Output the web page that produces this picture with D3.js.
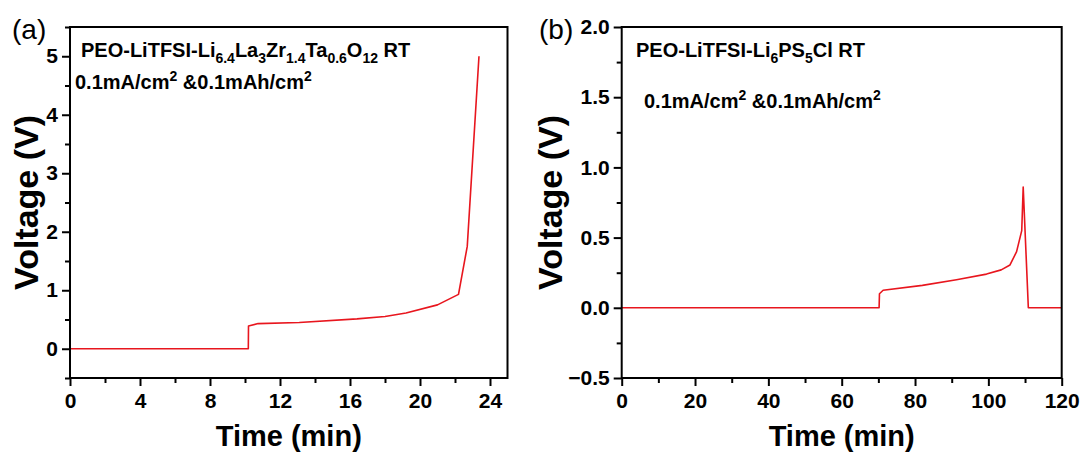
<!DOCTYPE html>
<html>
<head>
<meta charset="utf-8">
<script src="https://cdn.jsdelivr.net/npm/d3@7"></script>
<style>
  html, body { margin: 0; padding: 0; background: #fff; }
  svg { display: block; }
  text { font-family: "Liberation Sans", Arial, Helvetica, sans-serif; }
</style>
</head>
<body>
<svg id="chart" width="1085" height="452"></svg>
<script>
// ---- Data ----
const timeA = [0, 10.19, 10.2, 10.75, 13.1, 16.4, 18.0, 19.2, 21.0, 22.2, 22.7, 23.37];
const voltA = [0, 0, 0.39, 0.43, 0.45, 0.51, 0.55, 0.61, 0.75, 0.93, 1.75, 5.0];

const timeB = [0, 70.2, 70.3, 71.3, 82, 91.3, 99.5, 103.5, 105.9, 107.7, 109.1, 109.5, 110.9, 120];
const voltB = [0, 0, 0.10, 0.125, 0.16, 0.20, 0.24, 0.27, 0.305, 0.40, 0.55, 0.86, 0, 0];

const xTicksA = [0, 4, 8, 12, 16, 20, 24];
const yTicksA = [0, 1, 2, 3, 4, 5];
const xTicksB = [0, 20, 40, 60, 80, 100, 120];
const yTicksB = [-0.5, 0.0, 0.5, 1.0, 1.5, 2.0];

const xMinorA = [2, 6, 10, 14, 18, 22];
const yMinorA = [-0.5, 0.5, 1.5, 2.5, 3.5, 4.5, 5.5];
const xMinorB = [10, 30, 50, 70, 90, 110];
const yMinorB = [-0.25, 0.25, 0.75, 1.25, 1.75];

const xLabel = "Time (min)";
const yLabel = "Voltage (V)";

const svg = d3.select("#chart");
const RED = "#e8161e";

function panel(cfg) {
  const g = svg.append("g");
  const x = d3.scaleLinear().domain(cfg.xDomain).range([cfg.left, cfg.right]);
  const y = d3.scaleLinear().domain(cfg.yDomain).range([cfg.bottom, cfg.top]);

  // minor ticks
  g.append("g").attr("transform", `translate(0,${cfg.bottom})`)
    .call(d3.axisBottom(x).tickValues(cfg.xMinor).tickSize(5).tickFormat(""))
    .call(s => s.select(".domain").remove())
    .call(s => s.selectAll("line").attr("stroke", "#000").attr("stroke-width", 2));
  g.append("g").attr("transform", `translate(${cfg.left},0)`)
    .call(d3.axisLeft(y).tickValues(cfg.yMinor).tickSize(5).tickFormat(""))
    .call(s => s.select(".domain").remove())
    .call(s => s.selectAll("line").attr("stroke", "#000").attr("stroke-width", 2));

  // major ticks
  g.append("g").attr("transform", `translate(0,${cfg.bottom})`)
    .call(d3.axisBottom(x).tickValues(cfg.xTicks).tickSize(8).tickPadding(7).tickFormat(d3.format("d")))
    .call(s => s.select(".domain").remove())
    .call(s => s.selectAll("line").attr("stroke", "#000").attr("stroke-width", 2))
    .call(s => s.selectAll("text").attr("font-size", 21).attr("font-weight", "bold")
      .attr("fill", "#000").style("font-family", '"Liberation Sans", Arial, sans-serif'));
  g.append("g").attr("transform", `translate(${cfg.left},0)`)
    .call(d3.axisLeft(y).tickValues(cfg.yTicks).tickSize(8).tickPadding(4).tickFormat(cfg.yFmt))
    .call(s => s.select(".domain").remove())
    .call(s => s.selectAll("line").attr("stroke", "#000").attr("stroke-width", 2))
    .call(s => s.selectAll("text").attr("font-size", 21).attr("font-weight", "bold")
      .attr("fill", "#000").style("font-family", '"Liberation Sans", Arial, sans-serif'));

  // curve
  const pts = cfg.t.map((d, i) => [d, cfg.v[i]]);
  g.append("path")
    .datum(pts)
    .attr("fill", "none")
    .attr("stroke", RED)
    .attr("stroke-width", 1.6)
    .attr("stroke-linejoin", "round")
    .attr("d", d3.line().x(d => x(d[0])).y(d => y(d[1])));

  // frame
  g.append("rect")
    .attr("x", cfg.left).attr("y", cfg.top)
    .attr("width", cfg.right - cfg.left).attr("height", cfg.bottom - cfg.top)
    .attr("fill", "none").attr("stroke", "#000").attr("stroke-width", 2);

  // axis titles
  g.append("text")
    .attr("x", (cfg.left + cfg.right) / 2).attr("y", 446)
    .attr("text-anchor", "middle").attr("font-size", 29).attr("font-weight", "bold")
    .text(xLabel);
  g.append("text")
    .attr("transform", `translate(${cfg.yLabelX},${(cfg.top + cfg.bottom) / 2}) rotate(-90)`)
    .attr("text-anchor", "middle").attr("font-size", 34).attr("font-weight", "bold")
    .text(yLabel);

  // panel letter
  g.append("text").attr("x", cfg.letterX).attr("y", 39)
    .attr("font-size", 28).text(cfg.letter);

  return g;
}

function richText(g, xPos, yPos, parts) {
  const t = g.append("text").attr("x", xPos).attr("y", yPos)
    .attr("font-size", 20).attr("font-weight", "bold").attr("fill", "#000");
  let shift = 0;
  parts.forEach(p => {
    const [str, kind] = p;
    let target = 0, size = 20;
    if (kind === "sub") { target = 6; size = 14; }
    if (kind === "sup") { target = -8; size = 14; }
    t.append("tspan").attr("dy", target - shift).attr("font-size", size).text(str);
    shift = target;
  });
  return t;
}

const gA = panel({
  left: 70, right: 507.5, top: 27, bottom: 378,
  xDomain: [0, 25], yDomain: [-0.5, 5.5],
  xTicks: xTicksA, yTicks: yTicksA, xMinor: xMinorA, yMinor: yMinorA,
  yFmt: d3.format("d"), t: timeA, v: voltA,
  yLabelX: 38, letter: "(a)", letterX: 12
});
richText(gA, 81, 57, [["PEO-LiTFSI-Li"], ["6.4", "sub"], ["La"], ["3", "sub"], ["Zr"], ["1.4", "sub"],
  ["Ta"], ["0.6", "sub"], ["O"], ["12", "sub"], [" RT"]]);
richText(gA, 75, 89, [["0.1mA/cm"], ["2", "sup"], [" &0.1mAh/cm"], ["2", "sup"]]);

const gB = panel({
  left: 621.7, right: 1061.7, top: 27, bottom: 378,
  xDomain: [0, 120], yDomain: [-0.5, 2.0],
  xTicks: xTicksB, yTicks: yTicksB, xMinor: xMinorB, yMinor: yMinorB,
  yFmt: d3.format(".1f"), t: timeB, v: voltB,
  yLabelX: 562, letter: "(b)", letterX: 539
});
richText(gB, 636, 57, [["PEO-LiTFSI-Li"], ["6", "sub"], ["PS"], ["5", "sub"], ["Cl RT"]]);
richText(gB, 644, 108, [["0.1mA/cm"], ["2", "sup"], [" &0.1mAh/cm"], ["2", "sup"]]);
</script>
</body>
</html>
